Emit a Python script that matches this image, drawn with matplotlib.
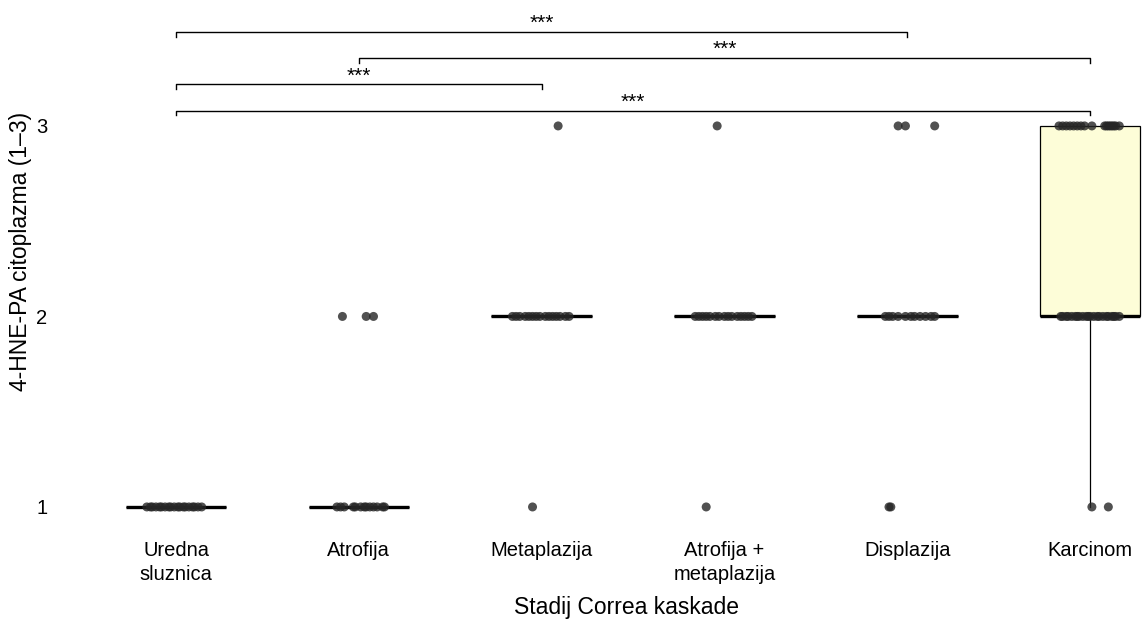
"""
4-HNE-PA citoplazma po stadijima Correa kaskade
"""

import numpy as np
import matplotlib.pyplot as plt

plt.rcParams['font.family'] = ['Liberation Sans', 'DejaVu Sans']

# Kategorije (x os)
kategorije = ['Uredna\nsluznica', 'Atrofija', 'Metaplazija',
              'Atrofija +\nmetaplazija', 'Displazija', 'Karcinom']

# Ocjene (1-3) i ocitani horizontalni pomak tocaka (u sirinama kategorije)
uredna_ocjene = [1, 1, 1, 1, 1, 1, 1, 1, 1, 1, 1, 1, 1, 1, 1, 1, 1, 1, 1]
uredna_pomak = [-0.16, -0.14, -0.13, -0.11, -0.09, -0.08, -0.06, -0.04, -0.03, -0.01,
                0.01, 0.02, 0.04, 0.05, 0.07, 0.09, 0.10, 0.12, 0.14]

atrofija_ocjene = [1, 1, 1, 1, 1, 1, 1, 1, 1, 1, 1, 1, 1, 2, 2, 2]
atrofija_pomak = [-0.12, -0.10, -0.08, -0.03, -0.02, 0.01, 0.03, 0.04, 0.06, 0.08,
                  0.10, 0.13, 0.14, -0.09, 0.04, 0.08]

metaplazija_ocjene = [1, 2, 2, 2, 2, 2, 2, 2, 2, 2, 2, 2, 2, 2, 2, 2, 3]
metaplazija_pomak = [-0.05, -0.16, -0.14, -0.12, -0.09, -0.07, -0.05, -0.03, -0.01,
                     0.02, 0.04, 0.06, 0.08, 0.10, 0.13, 0.15, 0.09]

atr_met_ocjene = [1, 2, 2, 2, 2, 2, 2, 2, 2, 2, 2, 2, 2, 2, 2, 2, 3]
atr_met_pomak = [-0.10, -0.16, -0.14, -0.12, -0.10, -0.08, -0.05, -0.03, 0.00,
                 0.02, 0.04, 0.07, 0.09, 0.11, 0.13, 0.15, -0.04]

displazija_ocjene = [1, 1, 2, 2, 2, 2, 2, 2, 2, 2, 2, 2, 2, 3, 3, 3]
displazija_pomak = [-0.10, -0.09, -0.12, -0.10, -0.08, -0.05, -0.01, 0.02, 0.04,
                    0.07, 0.10, 0.13, 0.15, -0.05, -0.01, 0.15]

karcinom_ocjene = [1, 1,
                   2, 2, 2, 2, 2, 2, 2, 2, 2, 2, 2, 2, 2, 2, 2, 2, 2, 2, 2, 2, 2, 2,
                   3, 3, 3, 3, 3, 3, 3, 3, 3, 3, 3, 3, 3, 3, 3, 3, 3]
karcinom_pomak = [0.01, 0.10,
                  -0.16, -0.15, -0.13, -0.12, -0.10, -0.08, -0.07, -0.06, -0.04, -0.02, -0.01,
                  0.00, 0.02, 0.04, 0.05, 0.07, 0.09, 0.10, 0.12, 0.13, 0.14, 0.16,
                  -0.17, -0.15, -0.13, -0.11, -0.09, -0.07, -0.05, -0.03, 0.01,
                  0.08, 0.09, 0.10, 0.11, 0.12, 0.13, 0.14, 0.16]

# Usporedbe (Wilcoxon), od donje prema gornjoj zagradi
usporedbe = [(0, 5), (0, 2), (1, 5), (0, 4)]
oznake = ['***', '***', '***', '***']

ocjene = [uredna_ocjene, atrofija_ocjene, metaplazija_ocjene,
          atr_met_ocjene, displazija_ocjene, karcinom_ocjene]
pomaci = [uredna_pomak, atrofija_pomak, metaplazija_pomak,
          atr_met_pomak, displazija_pomak, karcinom_pomak]

fig = plt.figure(figsize=(11.46, 6.26), dpi=100)
ax = fig.add_axes([60 / 1146, 1 - 530 / 626, 1086 / 1146, 530 / 626])

poz = np.arange(len(kategorije))
bp = ax.boxplot(ocjene, positions=poz, widths=0.55, showfliers=False,
                patch_artist=True,
                boxprops=dict(edgecolor='black', linewidth=0.9),
                medianprops=dict(color='black', linewidth=2.4),
                whiskerprops=dict(color='black', linewidth=0.9),
                capprops=dict(linewidth=0))
for i, box in enumerate(bp['boxes']):
    box.set_facecolor('#fdfdd8' if i == len(kategorije) - 1 else 'white')

for i in range(len(kategorije)):
    x = poz[i] + np.array(pomaci[i])
    ax.scatter(x, ocjene[i], s=42, color='#262626', alpha=0.8,
               edgecolors='none', zorder=3)

# Zagrade znacajnosti
y0 = 3.08
korak = 0.138
for k, (a, b) in enumerate(usporedbe):
    y = y0 + k * korak
    ax.plot([a, a, b, b], [y - 0.025, y, y, y - 0.025], color='black', lw=1.0,
            clip_on=False)
    ax.text((a + b) / 2, y - 0.005, oznake[k], ha='center', va='bottom',
            fontsize=15)

ax.set_xlim(-0.635, 5.306)
ax.set_ylim(0.879, 3.661)
ax.set_xticks(poz)
ax.set_xticklabels(kategorije, fontsize=14.5, linespacing=1.35)
ax.set_yticks([1, 2, 3])
ax.set_yticklabels(['1', '2', '3'], fontsize=14.5)
ax.tick_params(length=0)
ax.tick_params(axis='x', pad=8)
ax.tick_params(axis='y', pad=9)
for s in ax.spines.values():
    s.set_visible(False)

ax.set_xlabel('Stadij Correa kaskade', fontsize=16.5, va='center')
ax.xaxis.set_label_coords(0.522, -0.147)
ax.set_ylabel('4-HNE-PA citoplazma (1–3)', fontsize=16.5, va='center')
ax.yaxis.set_label_coords(-0.036, 0.525)

plt.savefig('out.png', dpi=100)
